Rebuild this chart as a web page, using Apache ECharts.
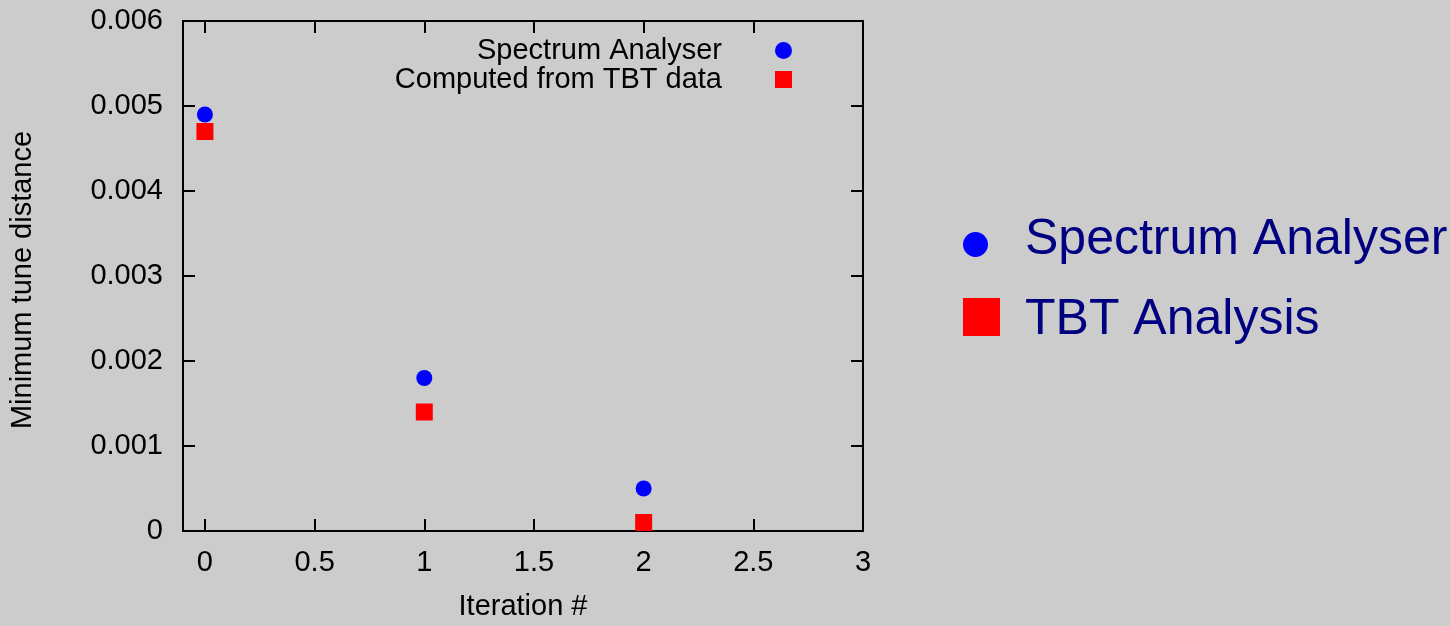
<!DOCTYPE html>
<html>
<head>
<meta charset="utf-8">
<script src="https://cdn.jsdelivr.net/npm/echarts@6/dist/echarts.min.js"></script>
<style>
html,body{margin:0;padding:0;background:#cccccc;}
#chart{width:1450px;height:626px;}
</style>
</head>
<body>
<div id="chart"></div>
<script>
const iterations = [0, 1, 2];
const spectrumValues = [0.0049, 0.0018, 0.0005];
const tbtValues = [0.0047, 0.0014, 0.0001];
const xTicks = [0, 0.5, 1, 1.5, 2, 2.5, 3];
const yTicks = [0, 0.001, 0.002, 0.003, 0.004, 0.005, 0.006];
const seriesNames = ['Spectrum Analyser', 'Computed from TBT data'];
const outerLegendLabels = ['Spectrum Analyser', 'TBT Analysis'];
const xTitle = 'Iteration #';
const yTitle = 'Minimum tune distance';

const FONT = "'Liberation Sans', Arial, sans-serif";
const chart = echarts.init(document.getElementById('chart'));

function axisCommon(values, showLabels, margin) {
  return {
    axisLine: { show: true, onZero: false, lineStyle: { color: '#000', width: 2 } },
    axisTick: { show: true, inside: true, length: 12, customValues: values, lineStyle: { color: '#000', width: 2 } },
    axisLabel: {
      show: showLabels, customValues: values, margin: margin,
      color: '#000', fontSize: 29, fontFamily: FONT,
      formatter: v => String(v)
    },
    splitLine: { show: false }
  };
}

const option = {
  backgroundColor: '#cccccc',
  animation: false,
  grid: { left: 183, right: 587, top: 21, bottom: 87, containLabel: false },
  xAxis: [
    Object.assign({
      type: 'value', min: -0.1, max: 3, position: 'bottom',
      name: xTitle, nameLocation: 'middle', nameGap: 61,
      nameTextStyle: { color: '#000', fontSize: 29, fontFamily: FONT }
    }, axisCommon(xTicks, true, 17)),
    Object.assign({ type: 'value', min: -0.1, max: 3, position: 'top' }, axisCommon(xTicks, false, 8))
  ],
  yAxis: [
    Object.assign({
      type: 'value', min: 0, max: 0.006, position: 'left',
      name: yTitle, nameLocation: 'middle', nameGap: 146,
      nameTextStyle: { color: '#000', fontSize: 29, fontFamily: FONT, padding: [0, 8, 0, 0] }
    }, axisCommon(yTicks, true, 20)),
    Object.assign({ type: 'value', min: 0, max: 0.006, position: 'right' }, axisCommon(yTicks, false, 8))
  ],
  legend: {
    orient: 'vertical', align: 'right', right: 658, top: 36, padding: 0,
    itemWidth: 17, itemHeight: 17, itemGap: 0,
    data: seriesNames,
    textStyle: { color: '#000', fontSize: 29, fontFamily: FONT, padding: [0, 48, 0, 0] }
  },
  series: [
    {
      name: seriesNames[0], type: 'scatter', symbol: 'circle', symbolSize: 16,
      itemStyle: { color: '#0000ff', opacity: 1 },
      data: iterations.map((x, i) => [x, spectrumValues[i]])
    },
    {
      name: seriesNames[1], type: 'scatter', symbol: 'rect', symbolSize: 17,
      itemStyle: { color: '#ff0000', opacity: 1 },
      data: iterations.map((x, i) => [x, tbtValues[i]])
    }
  ],
  graphic: [
    { type: 'circle', shape: { cx: 975.5, cy: 244.5, r: 12.5 }, style: { fill: '#0000ff' } },
    { type: 'text', x: 1025, y: 240, style: { text: outerLegendLabels[0], fill: '#000080', fontSize: 50, fontFamily: FONT, verticalAlign: 'middle', align: 'left' } },
    { type: 'rect', shape: { x: 963, y: 298, width: 37, height: 38 }, style: { fill: '#ff0000' } },
    { type: 'text', x: 1025, y: 320, style: { text: outerLegendLabels[1], fill: '#000080', fontSize: 50, fontFamily: FONT, verticalAlign: 'middle', align: 'left' } }
  ]
};
chart.setOption(option);
</script>
</body>
</html>
